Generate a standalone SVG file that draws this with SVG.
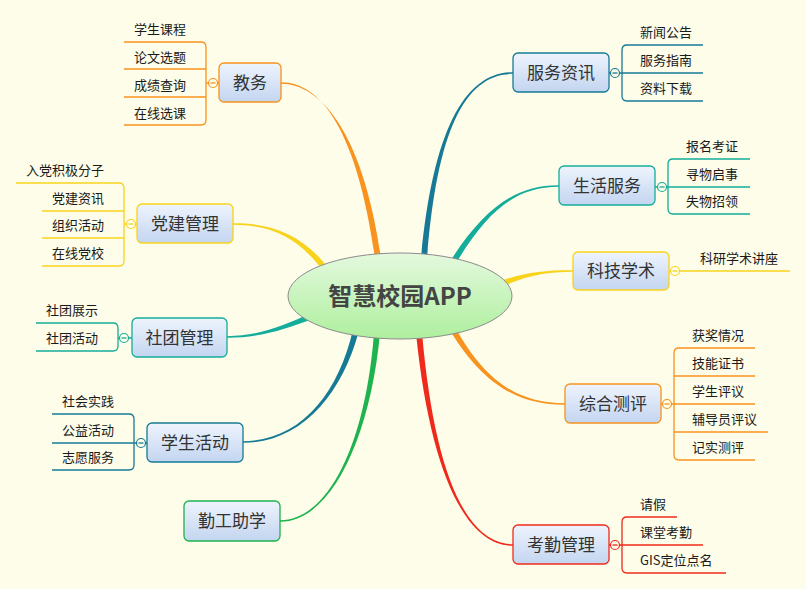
<svg xmlns="http://www.w3.org/2000/svg" width="806" height="589" viewBox="0 0 806 589">
<defs>
<linearGradient id="gNode" x1="0" y1="0" x2="0" y2="1"><stop offset="0" stop-color="#eef4fd"/><stop offset="1" stop-color="#c3d5f0"/></linearGradient>
<linearGradient id="gCenter" x1="0" y1="0" x2="0" y2="1"><stop offset="0" stop-color="#e4f9de"/><stop offset="1" stop-color="#aeef9e"/></linearGradient>
<style>
.nd{fill:url(#gNode);stroke-width:1.3}
.nt{font-family:"Noto Sans CJK SC","Microsoft YaHei",sans-serif;font-size:17px;fill:#333;text-anchor:middle}
.ct{font-family:"Noto Sans CJK SC","Microsoft YaHei",sans-serif;font-size:13px;fill:#1a1a1a}
.br{fill:none;stroke-width:1.3}
.cc{fill:#fdfde9;stroke-width:1.2}
.orange{stroke:#f7931e}
.yellow{stroke:#f8d31c}
.teal{stroke:#14ad9b}
.blue{stroke:#167a96}
.green{stroke:#1db34f}
.red{stroke:#ef2a1c}
</style>
</defs>
<rect x="0" y="0" width="806" height="589" fill="#fdfde9"/>
<g id="connectors">
<path fill="#f7931e" d="M381,258 C363,131 320,84 281,83.8 L281,82.2 C320,82 357,129 375,258 Z"/>
<path fill="#f8d31c" d="M328.4,268.2 C302,233.5 270,223 233,223.2 L233,224.8 C270,225 298,236.5 323.6,271.8 Z"/>
<path fill="#14ad9b" d="M310.9,313.2 C284.2,325 260,336 227,336.2 L227,337.8 C260,338 285.8,329 313.1,318.8 Z"/>
<path fill="#167a96" d="M353.1,329.3 C338.1,394.5 300,441 243,441.2 L243,442.8 C300,443 341.9,395.5 358.9,330.7 Z"/>
<path fill="#1db34f" d="M374,332.7 C366,439.8 330,520 280,520.2 L280,521.8 C330,522 370,440.2 380,333.3 Z"/>
<path fill="#167a96" d="M427,259.3 C437,130.2 465,74 513,73.8 L513,72.2 C465,72 433,129.8 421,258.7 Z"/>
<path fill="#14ad9b" d="M454.6,265.6 C486.7,211 515,187 559,186.8 L559,185.2 C515,185 483.3,209 449.4,262.4 Z"/>
<path fill="#f8d31c" d="M499.1,287.8 C525.8,275.9 545,272 573,271.8 L573,270.2 C545,270 524.2,272.1 496.9,282.2 Z"/>
<path fill="#f7931e" d="M449.4,329.5 C483.3,386 520,405 565,404.8 L565,403.2 C520,403 486.7,384 454.6,326.5 Z"/>
<path fill="#ef2a1c" d="M416,333.3 C430,470.2 465,546 513,545.8 L513,544.2 C465,544 434,469.8 422,332.7 Z"/>
<!-- child brackets -->
<path class="br orange" d="M124,42 H201 Q206,42 206,47 V120 Q206,125 201,125 H124 M124,69 H206 M124,97 H206 M206,83 H219"/>
<path class="br yellow" d="M16,183 H119 Q124,183 124,188 V261 Q124,266 119,266 H42 M42,211 H124 M42,238 H124 M124,224 H137"/>
<path class="br teal" d="M36,323 H113 Q118,323 118,328 V346 Q118,351 113,351 H36 M118,338 H132"/>
<path class="br blue" d="M52,414 H129 Q134,414 134,419 V465 Q134,470 129,470 H52 M52,443 H147"/>
<path class="br blue" d="M703,45 H627 Q622,45 622,50 V96 Q622,101 627,101 H703 M609,73 H703"/>
<path class="br teal" d="M750,159 H673 Q668,159 668,164 V209 Q668,214 673,214 H750 M655,187 H750"/>
<path class="br yellow" d="M669,271 H790"/>
<path class="br orange" d="M755,348 H679 Q674,348 674,353 V455 Q674,460 679,460 H755 M674,376 H755 M661,404 H755 M674,432 H768"/>
<path class="br red" d="M677,517 H627 Q622,517 622,522 V568 Q622,573 627,573 H726 M609,545 H703"/>
</g>
<g id="center">
<ellipse cx="400" cy="296" rx="112" ry="43" fill="url(#gCenter)" stroke="#8c8c8c" stroke-width="1"/>
<text x="400" y="305" font-family="'Noto Sans CJK SC','Microsoft YaHei',sans-serif" font-size="24" font-weight="bold" fill="#444" text-anchor="middle">智慧校园APP</text>
</g>
<g id="n-jiaowu">
<rect class="nd orange" x="219" y="63" width="62" height="39" rx="5"/>
<text class="nt" x="250" y="88.5">教务</text>
<circle class="cc orange" cx="213" cy="83" r="4.5"/><path class="br orange" d="M210.5,83 H215.5"/>
<text class="ct" x="134" y="34">学生课程</text>
<text class="ct" x="134" y="62">论文选题</text>
<text class="ct" x="134" y="90">成绩查询</text>
<text class="ct" x="134" y="118">在线选课</text>
</g>
<g id="n-dangjian">
<rect class="nd yellow" x="137" y="204" width="96" height="39" rx="5"/>
<text class="nt" x="185" y="229.5">党建管理</text>
<circle class="cc yellow" cx="131" cy="224" r="4.5"/><path class="br yellow" d="M128.5,224 H133.5"/>
<text class="ct" x="26" y="175">入党积极分子</text>
<text class="ct" x="52" y="203">党建资讯</text>
<text class="ct" x="52" y="230">组织活动</text>
<text class="ct" x="52" y="258">在线党校</text>
</g>
<g id="n-shetuan">
<rect class="nd teal" x="132" y="318" width="95" height="39" rx="5"/>
<text class="nt" x="179.5" y="343.5">社团管理</text>
<circle class="cc teal" cx="124" cy="338" r="4.5"/><path class="br teal" d="M121.5,338 H126.5"/>
<text class="ct" x="46" y="315">社团展示</text>
<text class="ct" x="46" y="343">社团活动</text>
</g>
<g id="n-xuesheng">
<rect class="nd blue" x="147" y="423" width="96" height="39" rx="5"/>
<text class="nt" x="195" y="448.5">学生活动</text>
<circle class="cc blue" cx="141" cy="443" r="4.5"/><path class="br blue" d="M138.5,443 H143.5"/>
<text class="ct" x="62" y="406">社会实践</text>
<text class="ct" x="62" y="435">公益活动</text>
<text class="ct" x="62" y="462">志愿服务</text>
</g>
<g id="n-qingong">
<rect class="nd green" x="184" y="501" width="96" height="40" rx="5"/>
<text class="nt" x="232" y="527">勤工助学</text>
</g>
<g id="n-fuwu">
<rect class="nd blue" x="513" y="53" width="96" height="39" rx="5"/>
<text class="nt" x="561" y="78.5">服务资讯</text>
<circle class="cc blue" cx="615" cy="73" r="4.5"/><path class="br blue" d="M612.5,73 H617.5"/>
<text class="ct" x="640" y="37">新闻公告</text>
<text class="ct" x="640" y="65">服务指南</text>
<text class="ct" x="640" y="93">资料下载</text>
</g>
<g id="n-shenghuo">
<rect class="nd teal" x="559" y="166" width="96" height="39" rx="5"/>
<text class="nt" x="607" y="191.5">生活服务</text>
<circle class="cc teal" cx="662" cy="187" r="4.5"/><path class="br teal" d="M659.5,187 H664.5"/>
<text class="ct" x="686" y="151">报名考证</text>
<text class="ct" x="686" y="179">寻物启事</text>
<text class="ct" x="686" y="206">失物招领</text>
</g>
<g id="n-keji">
<rect class="nd yellow" x="573" y="252" width="96" height="38" rx="5"/>
<text class="nt" x="621" y="277">科技学术</text>
<circle class="cc yellow" cx="675" cy="271" r="4.5"/><path class="br yellow" d="M672.5,271 H677.5"/>
<text class="ct" x="700" y="263">科研学术讲座</text>
</g>
<g id="n-zonghe">
<rect class="nd orange" x="565" y="384" width="96" height="39" rx="5"/>
<text class="nt" x="613" y="409.5">综合测评</text>
<circle class="cc orange" cx="667" cy="404" r="4.5"/><path class="br orange" d="M664.5,404 H669.5"/>
<text class="ct" x="692" y="340">获奖情况</text>
<text class="ct" x="692" y="368">技能证书</text>
<text class="ct" x="692" y="396">学生评议</text>
<text class="ct" x="692" y="424">辅导员评议</text>
<text class="ct" x="692" y="452">记实测评</text>
</g>
<g id="n-kaoqin">
<rect class="nd red" x="513" y="525" width="96" height="39" rx="5"/>
<text class="nt" x="561" y="550.5">考勤管理</text>
<circle class="cc red" cx="615" cy="545" r="4.5"/><path class="br red" d="M612.5,545 H617.5"/>
<text class="ct" x="640" y="509">请假</text>
<text class="ct" x="640" y="537">课堂考勤</text>
<text class="ct" x="640" y="565">GIS定位点名</text>
</g>
</svg>
